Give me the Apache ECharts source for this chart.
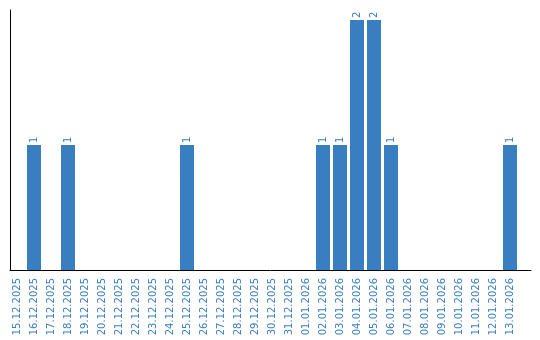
<!DOCTYPE html>
<html><head><meta charset="utf-8">
<script src="https://cdn.jsdelivr.net/npm/echarts@6/dist/echarts.min.js"></script>
<style>html,body{margin:0;padding:0;background:#fff}#c{width:540px;height:340px}</style>
</head><body><div id="c"></div>
<script>
const categories = ["15.12.2025","16.12.2025","17.12.2025","18.12.2025","19.12.2025","20.12.2025","21.12.2025","22.12.2025","23.12.2025","24.12.2025","25.12.2025","26.12.2025","27.12.2025","28.12.2025","29.12.2025","30.12.2025","31.12.2025","01.01.2026","02.01.2026","03.01.2026","04.01.2026","05.01.2026","06.01.2026","07.01.2026","08.01.2026","09.01.2026","10.01.2026","11.01.2026","12.01.2026","13.01.2026"];
const values = [0,1,0,1,0,0,0,0,0,0,1,0,0,0,0,0,0,0,1,1,2,2,1,0,0,0,0,0,0,1];
const blue = '#3a7ec2';
const chart = echarts.init(document.getElementById('c'), null, {renderer:'canvas'});
chart.setOption({
  animation:false,
  grid:[
    {left:8.5, top:10, width:510, height:260, containLabel:false},
    {left:10, top:10, width:521, height:260, containLabel:false}
  ],
  xAxis:[
    {type:'category', data:categories, gridIndex:0,
     axisLine:{show:false}, axisTick:{show:false},
     axisLabel:{rotate:90, color:blue, fontFamily:'DejaVu Sans', fontSize:10, margin:8, interval:0}},
    {type:'value', gridIndex:1, min:0, max:1, axisLine:{show:true, onZero:false, lineStyle:{color:'#000', width:1}},
     axisTick:{show:false}, axisLabel:{show:false}, splitLine:{show:false}}
  ],
  yAxis:[
    {type:'value', gridIndex:0, min:0, max:2.08, axisLine:{show:false}, axisTick:{show:false}, axisLabel:{show:false}, splitLine:{show:false}},
    {type:'value', gridIndex:1, min:0, max:1, axisLine:{show:true, lineStyle:{color:'#000', width:1}}, axisTick:{show:false}, axisLabel:{show:false}, splitLine:{show:false}}
  ],
  series:[{
    type:'bar', data:values, xAxisIndex:0, yAxisIndex:0,
    barWidth:14,
    itemStyle:{color:blue},
    label:{show:true, position:'top', rotate:90, align:'left', verticalAlign:'middle', distance:2,
      color:blue, fontFamily:'DejaVu Sans', fontSize:10,
      formatter:p=>p.value>0?String(p.value):''}
  }]
});
</script></body></html>
